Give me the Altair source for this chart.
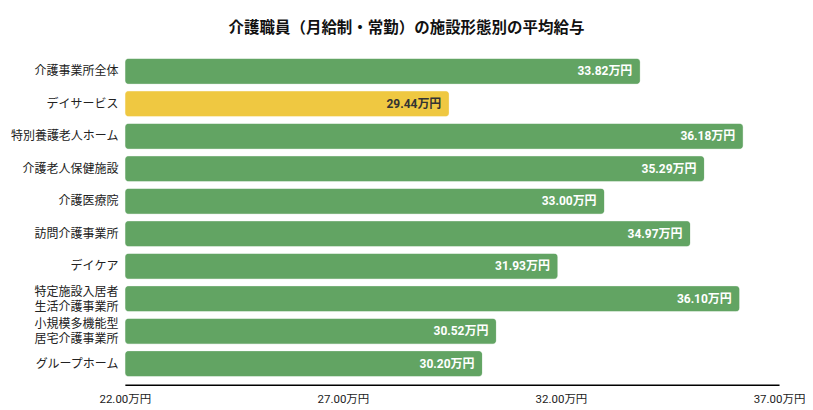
import altair as alt
import pandas as pd

categories = [
    "介護事業所全体",
    "デイサービス",
    "特別養護老人ホーム",
    "介護老人保健施設",
    "介護医療院",
    "訪問介護事業所",
    "デイケア",
    "特定施設入居者|生活介護事業所",
    "小規模多機能型|居宅介護事業所",
    "グループホーム",
]
salaries = [33.82, 29.44, 36.18, 35.29, 33.00, 34.97, 31.93, 36.10, 30.52, 30.20]
highlight = "デイサービス"
x_ticks = [22, 27, 32, 37]

df = pd.DataFrame({"facility": categories, "salary": salaries})

FONT = "Roboto, Noto Sans CJK JP, sans-serif"

base = alt.Chart(df).encode(
    y=alt.Y(
        "facility:N",
        sort=categories,
        title=None,
        scale=alt.Scale(paddingInner=0.2, paddingOuter=0.25),
        axis=alt.Axis(
            labelExpr="split(datum.label, '|')",
            labelFontSize=12,
            labelColor="#222",
            labelFont=FONT,
            labelPadding=7,
            # two-line labels: lift them so the block sits centred on the bar
            labelOffset={
                "condition": {"test": "indexof(datum.label, '|') >= 0", "value": -7},
                "value": 0,
            },
            ticks=False,
            domain=False,
            minExtent=117,
            maxExtent=117,
            labelLineHeight=15,
        ),
    ),
    x=alt.X(
        "salary:Q",
        title=None,
        scale=alt.Scale(domain=[22, 37], nice=False, zero=False, clamp=True),
        axis=alt.Axis(
            values=x_ticks,
            labelExpr="format(datum.value, '.2f') + '万円'",
            grid=False,
            ticks=False,
            labelFlush=False,
            domainColor="#000",
            domainWidth=1.5,
            labelFontSize=11.5,
            labelColor="#222",
            labelFont=FONT,
            labelPadding=9,
        ),
    ),
)

bars = base.mark_bar(cornerRadius=4, stroke="white", strokeOpacity=0.4, strokeWidth=1).encode(
    color=alt.condition(
        alt.datum.facility == highlight, alt.value("#efc841"), alt.value("#62a463")
    )
)

labels = (
    base.transform_calculate(txt="format(datum.salary, '.2f') + '万円'")
    .mark_text(align="right", dx=-8, fontSize=12, fontWeight="bold", font=FONT)
    .encode(
        text="txt:N",
        color=alt.condition(
            alt.datum.facility == highlight, alt.value("#333333"), alt.value("white")
        ),
    )
)

chart = (
    (bars + labels)
    .properties(
        width=655,
        height=335,
        padding={"left": 0, "top": 12, "right": 0, "bottom": 3},
        title=alt.TitleParams(
            "介護職員（月給制・常勤）の施設形態別の平均給与",
            fontSize=15.5,
            fontWeight="bold",
            font=FONT,
            color="#111",
            anchor="middle",
            frame="bounds",
            offset=14,
        ),
    )
    .configure_view(stroke=None)
)

chart.save("out.html", embed_options={"renderer": "svg", "actions": False})
